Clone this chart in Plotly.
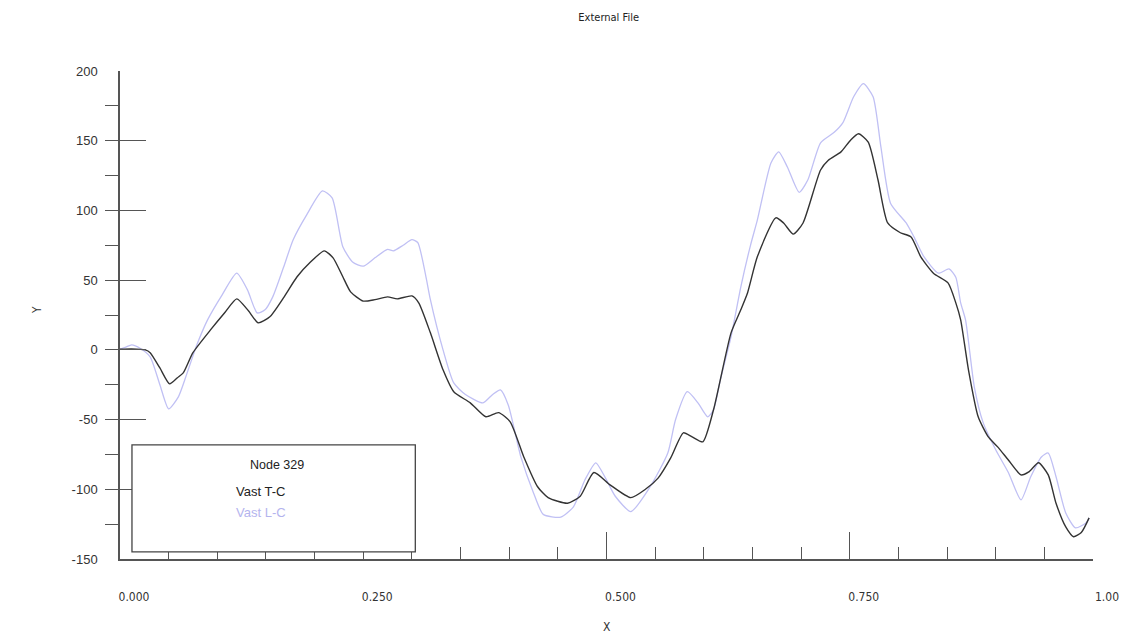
import plotly.graph_objects as go

# Node 329 response, two runs
x_tc = [0.000, 0.012, 0.026, 0.031, 0.041, 0.051, 0.059, 0.065, 0.075, 0.093,
        0.108, 0.120, 0.132, 0.142, 0.154, 0.168, 0.182, 0.195, 0.210, 0.219,
        0.229, 0.237, 0.250, 0.262, 0.275, 0.285, 0.300, 0.307, 0.319, 0.332,
        0.343, 0.360, 0.376, 0.389, 0.401, 0.415, 0.429, 0.440, 0.460, 0.473,
        0.487, 0.504, 0.525, 0.540, 0.553, 0.566, 0.579, 0.588, 0.599, 0.610,
        0.628, 0.638, 0.645, 0.655, 0.674, 0.682, 0.692, 0.702, 0.720, 0.728,
        0.741, 0.751, 0.759, 0.769, 0.779, 0.789, 0.802, 0.813, 0.823, 0.836,
        0.851, 0.859, 0.864, 0.872, 0.882, 0.892, 0.902, 0.913, 0.926, 0.934,
        0.944, 0.954, 0.962, 0.972, 0.980, 0.988, 0.996]
y_tc = [0.5, 0.7, 0.0, -2.0, -13.0, -24.4, -20.0, -16.5, -2.0, 14.3,
        27.0, 36.6, 28.0, 19.4, 23.7, 37.3, 52.4, 62.4, 71.0, 66.0,
        52.4, 41.6, 35.0, 36.0, 38.0, 36.6, 38.7, 33.7, 12.2, -14.3,
        -30.0, -38.0, -48.0, -45.0, -51.6, -76.8, -98.0, -106.0, -110.0, -105.0,
        -88.0, -97.0, -106.0, -100.0, -92.0, -77.5, -59.5, -62.4, -66.0, -43.0,
        12.2, 28.7, 41.0, 66.7, 94.7, 91.0, 83.0, 91.0, 129.0, 136.0,
        142.0, 150.6, 155.0, 149.0, 122.0, 91.0, 84.0, 81.0, 66.7, 55.0,
        48.0, 33.7, 21.5, -14.3, -48.0, -62.0, -69.6, -79.0, -89.7, -87.5,
        -81.0, -89.7, -110.0, -127.0, -134.0, -131.0, -120.5]

x_lc = [0.000, 0.006, 0.012, 0.021, 0.031, 0.041, 0.050, 0.060, 0.069, 0.079,
        0.090, 0.105, 0.120, 0.131, 0.141, 0.149, 0.157, 0.168, 0.178, 0.192,
        0.208, 0.218, 0.229, 0.239, 0.250, 0.262, 0.275, 0.281, 0.291, 0.300,
        0.306, 0.314, 0.319, 0.332, 0.343, 0.355, 0.373, 0.383, 0.391, 0.399,
        0.412, 0.425, 0.435, 0.453, 0.466, 0.478, 0.489, 0.499, 0.509, 0.525,
        0.545, 0.563, 0.571, 0.583, 0.594, 0.604, 0.610, 0.617, 0.628, 0.638,
        0.648, 0.655, 0.669, 0.677, 0.686, 0.698, 0.707, 0.720, 0.734, 0.743,
        0.754, 0.764, 0.774, 0.782, 0.792, 0.808, 0.816, 0.826, 0.841, 0.852,
        0.859, 0.864, 0.869, 0.878, 0.887, 0.900, 0.913, 0.926, 0.936, 0.947,
        0.954, 0.962, 0.972, 0.982, 0.993, 0.996]
y_lc = [0.5, 2.0, 3.6, 1.0, -5.0, -25.0, -42.3, -33.7, -16.5, 3.6,
        21.5, 39.5, 55.0, 43.0, 26.5, 28.7, 38.0, 59.0, 79.0, 97.0,
        114.0, 109.0, 74.0, 63.0, 60.0, 66.0, 72.0, 71.0, 75.0, 79.0,
        77.0, 54.0, 36.0, 0.0, -23.7, -32.0, -38.0, -32.0, -28.7, -39.5,
        -76.8, -102.6, -118.0, -120.0, -112.6, -93.0, -81.0, -92.0, -105.0, -116.0,
        -98.0, -74.0, -50.0, -30.0, -38.0, -48.0, -43.0, -21.5, 9.3, 45.0,
        75.0, 93.0, 134.0, 142.0, 131.0, 113.0, 122.0, 148.5, 156.0, 163.0,
        181.5, 191.0, 181.5, 145.6, 105.0, 91.0, 81.0, 67.0, 55.0, 58.0,
        52.0, 33.7, 21.5, -26.5, -52.0, -71.7, -88.0, -107.6, -91.0, -76.8,
        -74.0, -91.0, -117.0, -127.7, -124.0, -120.5]

x_tickvals = [0.0, 0.25, 0.5, 0.75, 1.0]
x_ticktext = ["0.000", "0.250", "0.500", "0.750", "1.00"]
y_tickvals = [-150, -100, -50, 0, 50, 100, 150, 200]
y_ticktext = ["-150", "-100", "-50", "0", "50", "100", "150", "200"]

series_names = ["Vast T-C", "Vast L-C"]
legend_title = "Node 329"

DARK = "#333333"
LIGHT = "#c0c0f4"
AXIS = "#555555"
NARROW = "Liberation Sans Narrow, Arial Narrow, DejaVu Sans Condensed, Liberation Sans, sans-serif"
SANS = "Liberation Sans, Arial, sans-serif"

fig = go.Figure()
fig.add_trace(go.Scatter(x=x_lc, y=y_lc, mode="lines", name=series_names[1],
                         line=dict(color=LIGHT, width=1.3, shape="spline", smoothing=0.6)))
fig.add_trace(go.Scatter(x=x_tc, y=y_tc, mode="lines", name=series_names[0],
                         line=dict(color=DARK, width=1.4, shape="spline", smoothing=0.6)))

fig.update_layout(
    width=1123, height=635,
    margin=dict(l=120, r=30, t=71, b=76, autoexpand=False),
    paper_bgcolor="white", plot_bgcolor="white",
    showlegend=False,
    title=dict(text="External File", x=0.542, xanchor="center", y=0.973, yanchor="middle",
               font=dict(family=NARROW, size=11, color="#222")),
)

fig.update_xaxes(
    range=[0, 1], showgrid=False, zeroline=False, automargin=False,
    showline=True, linecolor=AXIS, linewidth=1.5,
    tickmode="array", tickvals=x_tickvals, ticktext=x_ticktext,
    ticks="inside", ticklen=27, tickwidth=1.2, tickcolor=AXIS,
    minor=dict(dtick=0.05, tick0=0, ticks="inside", ticklen=12, tickwidth=1.1, tickcolor=AXIS),
    ticklabelstandoff=26, ticklabelshift=14,
    tickfont=dict(family=NARROW, size=12, color="#333"),
)
fig.update_yaxes(
    range=[-150, 200], showgrid=False, zeroline=False, automargin=False,
    showline=True, linecolor=AXIS, linewidth=1.5,
    tickmode="array", tickvals=y_tickvals, ticktext=y_ticktext,
    ticks="inside", ticklen=26, tickwidth=1.2, tickcolor=AXIS,
    minor=dict(dtick=25, tick0=0, ticks="outside", ticklen=13, tickwidth=1.1, tickcolor=AXIS),
    ticklabelstandoff=18,
    tickfont=dict(family=SANS, size=13, color="#333"),
)

# Legend box with white fill on top of the axes
fig.add_shape(type="rect", xref="x", yref="y", x0=0.0123, x1=0.3035, y0=-144.9, y1=-68.1,
              line=dict(color="#444", width=1.3), fillcolor="white", layer="above")

annotations = [
    dict(text=legend_title, x=0.1615, y=-82.5, xref="x", yref="y", xanchor="center",
         yanchor="middle", showarrow=False, font=dict(family=SANS, size=12.5, color="#222")),
    dict(text=series_names[0], x=0.117, y=-101.9, xref="x", yref="y", xanchor="left",
         yanchor="middle", showarrow=False, font=dict(family=SANS, size=13, color="#222")),
    dict(text=series_names[1], x=0.117, y=-116.9, xref="x", yref="y", xanchor="left",
         yanchor="middle", showarrow=False, font=dict(family=SANS, size=13, color="#b4b4ee")),
    dict(text="X", x=0.5, y=0, xref="paper", yref="paper", xanchor="center", yanchor="middle",
         yshift=-68, showarrow=False, font=dict(family=NARROW, size=12, color="#333")),
    dict(text="Y", x=0, y=0.51, xref="paper", yref="paper", xanchor="center", yanchor="middle",
         xshift=-83, textangle=-90, showarrow=False, font=dict(family=NARROW, size=12, color="#333")),
]
fig.update_layout(annotations=annotations)

fig.write_html("out.html")
